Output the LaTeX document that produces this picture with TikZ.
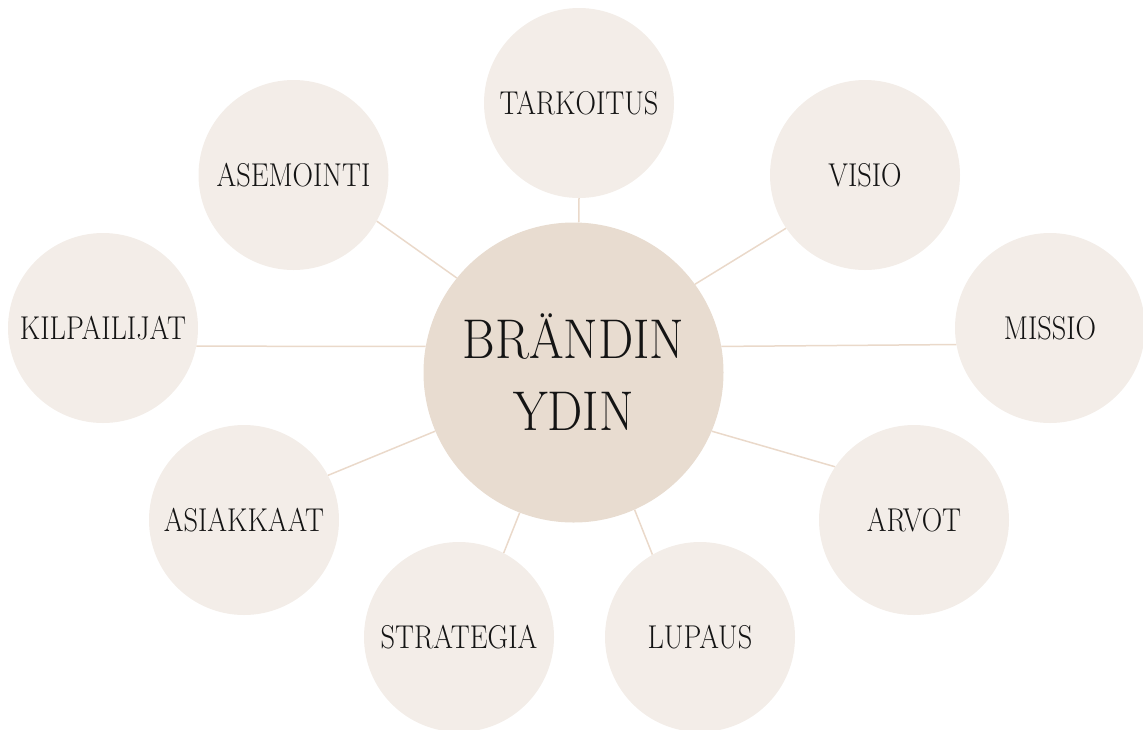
\documentclass[tikz,border=0pt]{standalone}
\usepackage{fontspec}
\usetikzlibrary{positioning}
\newfontfamily\bubblefont{lmroman17-regular.otf}[FakeStretch=0.86]
\newfontfamily\corefont{lmroman17-regular.otf}[FakeStretch=0.89]
\definecolor{sand}{HTML}{F3EDE8}
\definecolor{clay}{HTML}{E8DCD0}
\definecolor{thread}{HTML}{EAD9CA}

\begin{document}
\begin{tikzpicture}[
    x=1pt, y=-1pt,
    bubble/.style={circle, fill=sand, minimum size=190pt, inner sep=0pt, text=black!92,
        font=\bubblefont\fontsize{33}{38}\selectfont},
    core/.style={circle, fill=clay, minimum size=300pt, inner sep=0pt, align=center, text=black!92,
        font=\corefont\fontsize{56}{72}\selectfont},
    link/.style={draw=thread, line width=1.5pt}
]
\useasboundingbox (0,0) rectangle (1143,729);
\clip (0,0) rectangle (1143,729);

\node (brand) [core] at (573.5,372.5) {BRÄNDIN\\YDIN};

\node (tarkoitus) [bubble] at (579,103) {TARKOITUS};
\node (visio) [bubble] at (865,175) {VISIO};
\node (missio) [bubble] at (1050,328) {MISSIO};
\node (arvot) [bubble] at (914,520) {ARVOT};
\node (lupaus) [bubble] at (700,637) {LUPAUS};
\node (strategia) [bubble] at (459,637) {STRATEGIA};
\node (asiakkaat) [bubble] at (244,520) {ASIAKKAAT};
\node (kilpailijat) [bubble] at (103,328) {KILPAILIJAT};
\node (asemointi) [bubble] at (293.5,175) {ASEMOINTI};

\draw [link] (tarkoitus.south) -- (brand.88);
\draw [link] (brand.36) -- (visio.-146);
\draw [link] (brand.10) -- (missio.190);
\draw [link] (brand.-23) -- (arvot.146);
\draw [link] (brand.-66) -- (lupaus.120);
\draw [link] (brand.-111) -- (strategia.62);
\draw [link] (brand.-157) -- (asiakkaat.28);
\draw [link] (brand.170) -- (kilpailijat.-11);
\draw [link] (brand.141) -- (asemointi.-29);

\end{tikzpicture}
\end{document}
